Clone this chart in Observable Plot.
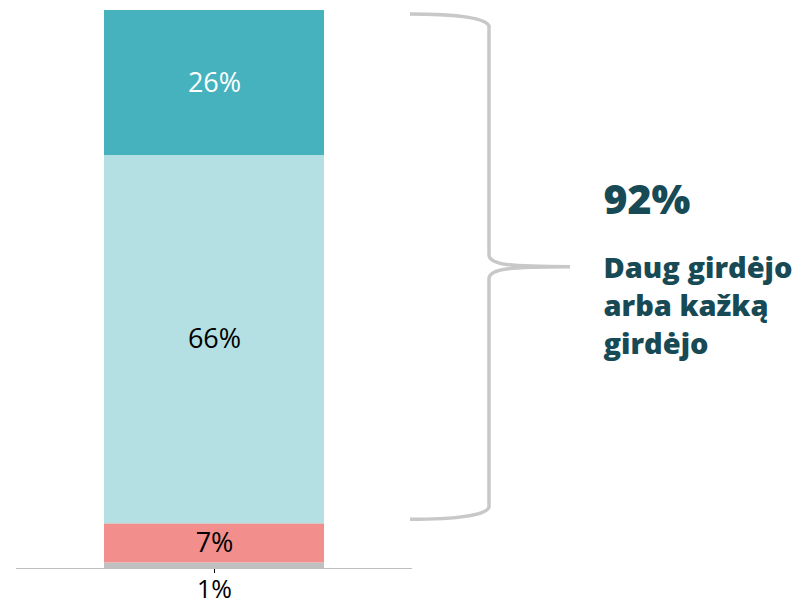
<!DOCTYPE html>
<html><head><meta charset="utf-8">
<script src="https://cdn.jsdelivr.net/npm/d3@7"></script>
<script src="https://cdn.jsdelivr.net/npm/@observablehq/plot@0.6"></script>
<style>body{margin:0;background:#fff}</style>
</head><body><div id="chart"></div>
<script>
// data
const categories = ["Nieko negirdėjo", "Mažai girdėjo", "Kažką girdėjo", "Daug girdėjo"];
const values = [1, 7, 66, 26];
const colors = ["#C0C0C0", "#F28E8B", "#B5E0E3", "#45B2BE"];
const labelColors = ["#000000", "#000000", "#000000", "#FFFFFF"];
const heardSummaryText = "Daug girdėjo\narba kažką\ngirdėjo";

const bar = "Q";
const data = categories.map((c, i) => ({bar, cat: c, value: values[i], label: values[i] + "%", i}));
const heard = values[2] + values[3];

const braceMark = (index, scales, vals, dims) => {
  const y = scales.y;
  const yT = y(100) + 4, yB = y(100 - heard) - 4, mid = (yT + yB) / 2;
  const x0 = dims.width - dims.marginRight + 86, xv = x0 + 79, xp = x0 + 160;
  const d = `M${x0},${yT} C${x0+40},${yT} ${xv-4},${yT+3} ${xv},${yT+12} L${xv},${mid-12} C${xv},${mid-2} ${xv+20},${mid} ${xp},${mid} C${xv+20},${mid} ${xv},${mid+2} ${xv},${mid+12} L${xv},${yB-12} C${xv-4},${yB-3} ${x0+40},${yB} ${x0},${yB}`;
  const p = d3.create("svg:path").attr("d", d).attr("fill", "none").attr("stroke", "#C8C8C8").attr("stroke-width", 3.5);
  return p.node();
};

const chart = Plot.plot({
  width: 803, height: 603,
  marginLeft: 104, marginRight: 479, marginTop: 10, marginBottom: 35,
  style: {fontFamily: "'Open Sans', sans-serif", background: "#fff"},
  x: {type: "band", domain: [bar], padding: 0, axis: "bottom", tickSize: 5, tickFormat: () => "", label: null},
  y: {domain: [0, 100], axis: null},
  color: {type: "ordinal", domain: categories, range: colors},
  marks: [
    Plot.barY(data, {x: "bar", y: "value", fill: "cat", order: null}),
    Plot.text(data, Plot.stackY({x: "bar", y: "value", order: null, text: d => d.value > 2 ? d.label : "", fill: d => labelColors[d.i], fontSize: 27})),
    Plot.text(data.filter(d => d.value <= 2), {x: "bar", y: 0, text: "label", dy: 21, fontSize: 25, fill: "#000"}),
    Plot.ruleY([0], {stroke: "#BFBFBF", strokeWidth: 1.2, insetLeft: -88, insetRight: -88}),
    braceMark,
    Plot.text([heard + "%"], {frameAnchor: "top-left", dx: 499, dy: 203, textAnchor: "start", lineAnchor: "bottom", fontSize: 41, fontWeight: 800, fill: "#174A55"}),
    Plot.text([heardSummaryText], {frameAnchor: "top-left", dx: 499, dy: 241, textAnchor: "start", lineAnchor: "top", fontSize: 29, fontWeight: 800, fill: "#174A55", lineHeight: 1.3})
  ]
});
document.getElementById("chart").appendChild(chart);
</script>
</body></html>
